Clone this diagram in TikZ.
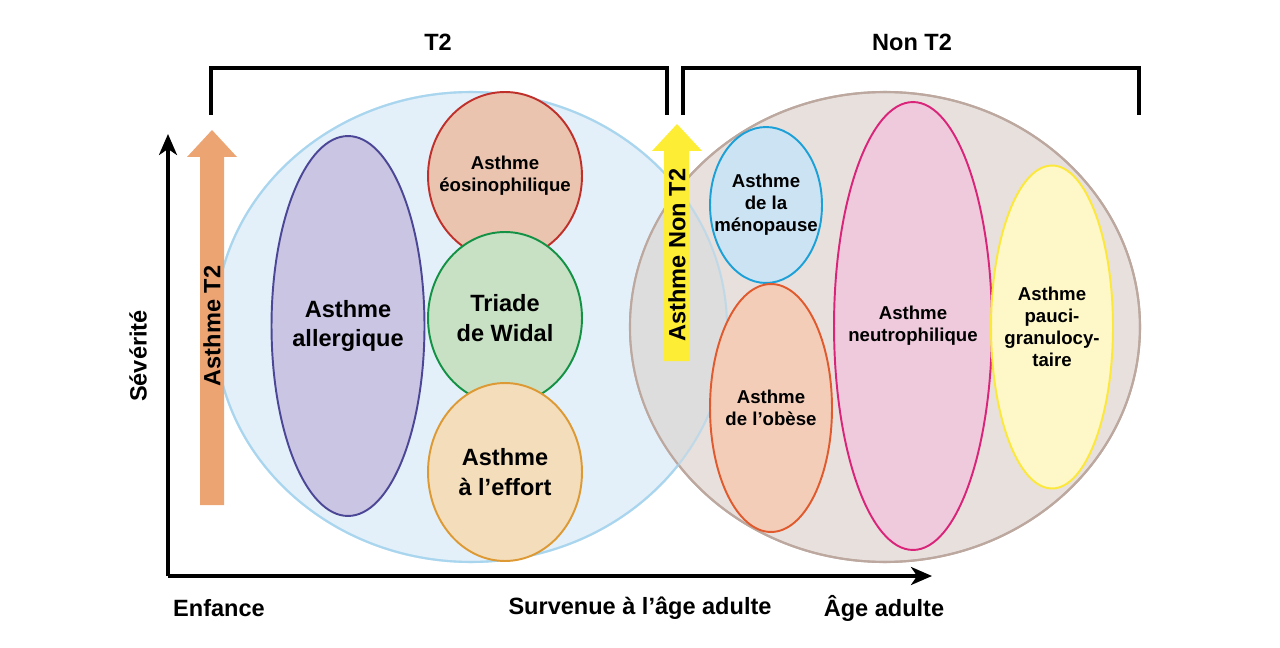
\documentclass[tikz,border=0pt]{standalone}
\usepackage{fontspec}
\setmainfont{Liberation Sans}
\usetikzlibrary{
    shapes.geometric,
    arrows.meta
}
\definecolor{t2fill}{HTML}{E3F0F9}
\definecolor{t2line}{HTML}{A9D6EE}
\definecolor{nont2fill}{HTML}{E8E0DD}
\definecolor{nont2line}{HTML}{BCA89F}
\definecolor{overlapfill}{HTML}{DEDDDD}
\definecolor{t2arrow}{HTML}{EDA473}
\definecolor{nont2arrow}{HTML}{FEED35}
\definecolor{allergfill}{HTML}{C9C5E3}
\definecolor{allergline}{HTML}{4B4796}
\definecolor{eosinofill}{HTML}{EBC4B0}
\definecolor{eosinoline}{HTML}{C0302A}
\definecolor{widalfill}{HTML}{C8E0C4}
\definecolor{widalline}{HTML}{139245}
\definecolor{effortfill}{HTML}{F4DDBA}
\definecolor{effortline}{HTML}{DD9933}
\definecolor{menofill}{HTML}{CCE3F3}
\definecolor{menoline}{HTML}{1BA0D7}
\definecolor{obesefill}{HTML}{F3CDB8}
\definecolor{obeseline}{HTML}{E05A2D}
\definecolor{neutrofill}{HTML}{EFCADC}
\definecolor{neutroline}{HTML}{D9247A}
\definecolor{paucifill}{HTML}{FEF7C7}
\definecolor{pauciline}{HTML}{FCE83A}
\tikzset{zone/.style={
    ellipse,
    inner sep=0pt,
    line width=1.2pt
}}
\tikzset{pheno/.style={
    ellipse,
    draw,
    inner sep=0pt,
    line width=1.1pt
}}
\tikzset{bigtext/.style={font=\bfseries\fontsize{13.4}{17}\selectfont, align=center}}
\tikzset{smalltext/.style={font=\bfseries\fontsize{10.6}{12.6}\selectfont, align=center}}
\tikzset{axis/.style={-{Stealth[length=4.2mm,width=3.6mm,inset=1.2mm]}, line width=1.9pt}}
\tikzset{bracket/.style={line width=2pt}}

\begin{document}
\begin{tikzpicture}[
            x=0.02cm,
            y=-0.02cm,
    ]
        \useasboundingbox (0,0) rectangle (1280,648);

        % the two groups
        \node[zone, fill=t2fill, draw=t2line, minimum width=10.24cm, minimum height=9.4cm]
            (t2zone) at (471,327)
            {};

        \node[zone, fill=nont2fill, draw=nont2line, minimum width=10.2cm, minimum height=9.4cm]
            (nont2zone) at (885,327)
            {};

        \begin{scope}
            \clip (t2zone.center) ellipse [x radius=256, y radius=235];
            \fill[overlapfill] (nont2zone.center) ellipse [x radius=255, y radius=235];
        \end{scope}
        \draw[nont2line, line width=1.2pt] (nont2zone.center) ellipse [x radius=255, y radius=235];
        \draw[t2line, line width=1.2pt, draw opacity=0.6] (t2zone.center) ellipse [x radius=256, y radius=235];

        % brackets
        \draw[bracket] (211,115) |- (667,68) -- (667,115);
        \draw[bracket] (683,115) |- (1139,68) -- (1139,115);

        \node[bigtext]
            (t2label) at (438,42)
            {T2};

        \node[bigtext]
            (nont2label) at (912,42)
            {Non T2};

        % axes
        \coordinate (origin) at (168,576);
        \coordinate (yend) at (168,134);
        \coordinate (xend) at (932,576);
        \draw[axis] (origin) -- (yend);
        \draw[axis] (origin) -- (xend);

        \node[bigtext, rotate=90]
            (severite) at (138,356)
            {Sévérité};

        \node[bigtext]
            (enfance) at (219,608)
            {Enfance};

        \node[bigtext]
            (survenue) at (640,608)
            {Survenue à l’âge adulte};

        \node[bigtext]
            (adulte) at (884,608)
            {Âge adulte};

        % T2 phenotypes
        \node[pheno, fill=allergfill, draw=allergline, minimum width=3.06cm, minimum height=7.6cm,
                label={[bigtext]center:Asthme\\allergique}]
            (allergique) at (348,326)
            {};

        \node[pheno, fill=eosinofill, draw=eosinoline, minimum width=3.08cm, minimum height=3.36cm,
                label={[smalltext]center:Asthme\\éosinophilique}]
            (eosino) at (505,176)
            {};

        \node[pheno, fill=widalfill, draw=widalline, minimum width=3.08cm, minimum height=3.44cm,
                label={[bigtext]center:Triade\\de Widal}]
            (widal) at (505,318)
            {};

        \node[pheno, fill=effortfill, draw=effortline, minimum width=3.08cm, minimum height=3.56cm,
                label={[bigtext]center:Asthme\\à l’effort}]
            (effort) at (505,472)
            {};

        % non T2 phenotypes
        \node[pheno, fill=menofill, draw=menoline, minimum width=2.24cm, minimum height=3.12cm,
                label={[smalltext]center:Asthme\\de la\\ménopause}]
            (menopause) at (766,205)
            {};

        \node[pheno, fill=obesefill, draw=obeseline, minimum width=2.44cm, minimum height=4.96cm,
                label={[smalltext]center:Asthme\\de l’obèse}]
            (obese) at (771,408)
            {};

        \node[pheno, fill=neutrofill, draw=neutroline, minimum width=3.16cm, minimum height=8.96cm,
                label={[smalltext]center:Asthme\\neutrophilique}]
            (neutro) at (913,326)
            {};

        \node[pheno, fill=paucifill, draw=pauciline, minimum width=2.44cm, minimum height=6.46cm,
                label={[smalltext]center:Asthme\\pauci-\\granulocy-\\taire}]
            (pauci) at (1052,327)
            {};

        % block arrows
        \fill[t2arrow] (200,505) -- (200,157) -- (187,157) -- (212,130)
            -- (237,157) -- (224,157) -- (224,505) -- cycle;
        \node[bigtext, rotate=90]
            (t2arrowtext) at (212,326)
            {Asthme T2};

        \fill[nont2arrow] (664,361) -- (664,151) -- (652,151) -- (677,124)
            -- (702,151) -- (689,151) -- (689,361) -- cycle;
        \node[bigtext, rotate=90]
            (nont2arrowtext) at (677,255)
            {Asthme Non T2};

    \end{tikzpicture}
\end{document}
